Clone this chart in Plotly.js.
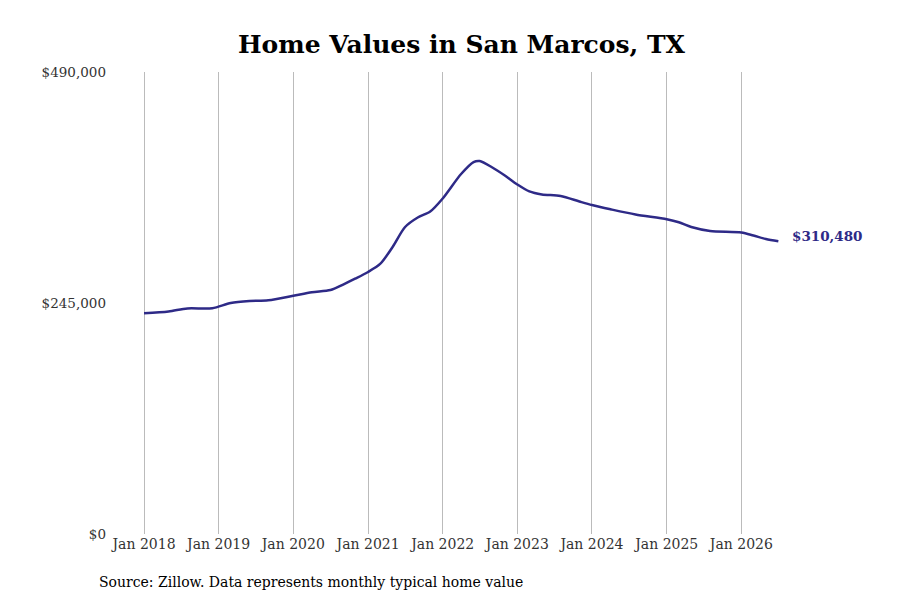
<!DOCTYPE html>
<html>
<head>
<meta charset="utf-8">
<script src="https://cdn.plot.ly/plotly-3.0.1.min.js"></script>
<style>
  html, body { margin: 0; padding: 0; background: #fff; }
  #chart { width: 900px; height: 600px; }
</style>
</head>
<body>
<div id="chart"></div>
<script>
// typical home value
const dates = [
    '2018-01-01', '2018-05-01', '2018-08-01', '2018-12-01', '2019-03-01', '2019-06-01',
    '2019-09-01', '2020-01-01', '2020-04-01', '2020-07-01', '2020-09-01', '2020-11-01',
    '2021-01-01', '2021-03-01', '2021-05-01', '2021-07-01', '2021-09-01', '2021-11-01',
    '2022-01-01', '2022-04-01', '2022-06-01', '2022-07-01', '2022-09-01', '2022-11-01',
    '2023-01-01', '2023-03-01', '2023-05-01', '2023-08-01', '2023-11-01', '2024-01-01',
    '2024-04-01', '2024-08-01', '2025-01-01', '2025-03-01', '2025-05-01', '2025-08-01',
    '2026-01-01', '2026-03-01', '2026-05-01', '2026-07-01'
]
const values = [
    234100, 236000, 239200, 239400, 245000, 247100,
    247900, 252700, 256500, 258800, 264600, 271000,
    277900, 286400, 304400, 325600, 335700, 342000,
    355800, 381800, 394500, 395600, 388700, 380200,
    370700, 363300, 360100, 358500, 352600, 348900,
    344400, 338900, 333800, 330600, 325600, 321400,
    319800, 316600, 312900, 310480
]
const yTicks = [0, 245000, 490000]
const yTickLabels = ['$0', '$245,000', '$490,000']
const xTicks = ['2018-01-01', '2019-01-01', '2020-01-01', '2021-01-01', '2022-01-01',
                '2023-01-01', '2024-01-01', '2025-01-01', '2026-01-01']
const xTickLabels = ['Jan 2018', 'Jan 2019', 'Jan 2020', 'Jan 2021', 'Jan 2022',
                     'Jan 2023', 'Jan 2024', 'Jan 2025', 'Jan 2026']

const lineColor = '#2e2a87'
const serif = 'DejaVu Serif, serif'

const lastIdx = values.length - 1

let data = [{
    x: dates,
    y: values,
    type: 'scatter',
    mode: 'lines',
    line: { color: lineColor, width: 2.5, shape: 'spline', smoothing: 0.8 },
    hoverinfo: 'skip'
}]

let layout = {
    width: 900,
    height: 600,
    margin: { l: 115, r: 120, t: 72, b: 66 },
    paper_bgcolor: '#fff',
    plot_bgcolor: '#fff',
    showlegend: false,
    font: { family: serif, size: 13, color: '#333' },
    title: {
        text: '<b>Home Values in San Marcos, TX</b>',
        font: { family: serif, size: 25, color: '#000' },
        xref: 'paper',
        x: 0.521,
        xanchor: 'center',
        yref: 'container',
        y: 1 - 44 / 600,
        yanchor: 'middle'
    },
    xaxis: {
        type: 'date',
        range: ['2017-08-12', '2026-07-09'],
        tickvals: xTicks,
        ticktext: xTickLabels,
        showgrid: true,
        gridcolor: '#bbbbbb',
        gridwidth: 1,
        zeroline: false,
        showline: false,
        ticks: '',
        tickfont: { family: serif, size: 14, color: '#333' }
    },
    yaxis: {
        range: [0, 490000],
        tickvals: yTicks,
        ticktext: yTickLabels,
        showgrid: false,
        zeroline: false,
        showline: false,
        ticks: '',
        ticklabelstandoff: 8,
        tickfont: { family: serif, size: 13.5, color: '#333' }
    },
    annotations: [{
        x: dates[lastIdx],
        y: values[lastIdx],
        xref: 'x',
        yref: 'y',
        xanchor: 'left',
        yanchor: 'middle',
        xshift: 12,
        yshift: 5,
        text: '<b>$' + values[lastIdx].toLocaleString('en-US') + '</b>',
        showarrow: false,
        font: { family: serif, size: 13.5, color: lineColor }
    }, {
        xref: 'paper',
        yref: 'paper',
        x: (97 - 115) / 665,
        xanchor: 'left',
        y: (534 - 582) / 462,
        yanchor: 'middle',
        text: 'Source: Zillow. Data represents monthly typical home value',
        showarrow: false,
        font: { family: serif, size: 14, color: '#000' }
    }]
}

Plotly.newPlot('chart', data, layout, { displayModeBar: false, staticPlot: true })
</script>
</body>
</html>
